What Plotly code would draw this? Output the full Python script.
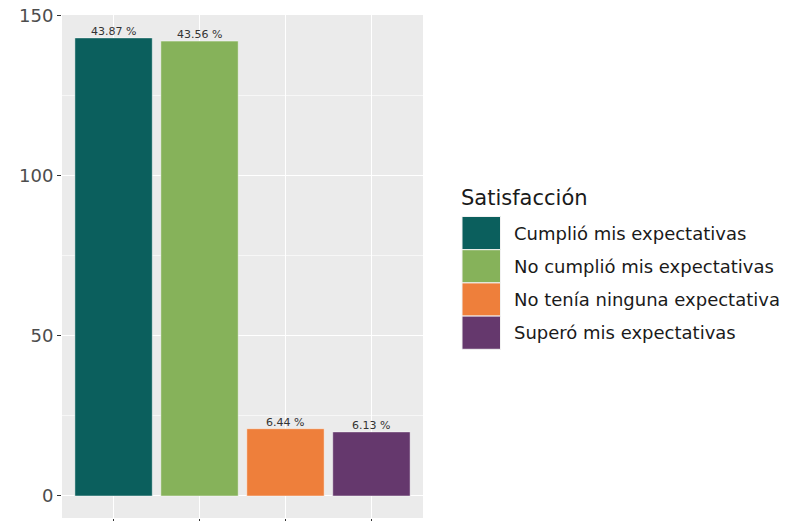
import plotly.graph_objects as go

categories = ["Cumplió mis expectativas", "No cumplió mis expectativas",
              "No tenía ninguna expectativa", "Superó mis expectativas"]
counts = [143, 142, 21, 20]
pct_labels = ["43.87 %", "43.56 %", "6.44 %", "6.13 %"]
colors = ["#0B5F5D", "#86B25A", "#EE7F3B", "#65386D"]
y_ticks = [0, 50, 100, 150]
legend_title = "Satisfacción"

W, H = 794, 521
PL, PR, PT, PB = 62, 423, 15, 518  # panel edges in page pixels
ML, MR, MT, MB = PL, W - PR, PT, H - PB
FONT = "DejaVu Sans"

def px_x(px):
    return (px - PL) / (PR - PL)

def px_y(py):
    return 1 - (py - PT) / (PB - PT)

fig = go.Figure()
fig.add_trace(go.Bar(
    x=categories, y=counts,
    marker=dict(color=colors, line=dict(color="rgba(255,255,255,0.45)", width=1)),
    width=0.9, showlegend=False, hoverinfo="x+y",
))

for c, v, t in zip(categories, counts, pct_labels):
    fig.add_annotation(x=c, y=v, text=t, showarrow=False, yanchor="bottom",
                       yshift=-2, font=dict(family=FONT, size=11, color="#333333"))

# manual legend
fig.add_annotation(xref="paper", yref="paper", x=px_x(459), y=px_y(198),
                   text=legend_title, showarrow=False, xanchor="left", yanchor="middle",
                   font=dict(family=FONT, size=21, color="#1a1a1a"))
key_top = 216.5
key_h = 33.2
for i, (c, col) in enumerate(zip(categories, colors)):
    y0 = key_top + i * key_h
    fig.add_shape(type="rect", xref="paper", yref="paper",
                  x0=px_x(462), x1=px_x(500.5), y0=px_y(y0 + key_h), y1=px_y(y0),
                  fillcolor=col, line=dict(color="#F2F2F2", width=1))
    fig.add_annotation(xref="paper", yref="paper", x=px_x(512), y=px_y(y0 + key_h / 2),
                       text=c, showarrow=False, xanchor="left", yanchor="middle",
                       font=dict(family=FONT, size=18, color="#1a1a1a"))

fig.update_layout(
    width=W, height=H,
    margin=dict(l=ML, r=MR, t=MT, b=MB, pad=0, autoexpand=False),
    paper_bgcolor="white", plot_bgcolor="#EBEBEB",
    bargap=0.1,
    font=dict(family=FONT),
)
fig.update_xaxes(
    range=[-0.6, 3.6], showticklabels=False, ticks="outside", ticklen=4,
    tickcolor="#333333", showgrid=True, gridcolor="white", gridwidth=1.3,
    zeroline=False, showline=False, fixedrange=True, automargin=False,
)
fig.update_yaxes(
    range=[-6.87, 150.15], tickvals=y_ticks, ticktext=[str(v) for v in y_ticks],
    ticks="outside", ticklen=4, tickcolor="#333333",
    tickfont=dict(family=FONT, size=18, color="#4D4D4D"),
    ticklabeloverflow="allow",
    showgrid=True, gridcolor="white", gridwidth=1.3, zeroline=False, showline=False,
    automargin=False,
    minor=dict(tickvals=[25, 75, 125], showgrid=True, gridcolor="#F7F7F7", gridwidth=0.7, ticks=""),
)

fig.write_html("out.html",
               config={"displayModeBar": False},
               post_script="document.body.style.margin='0px';document.body.style.overflow='hidden';")
